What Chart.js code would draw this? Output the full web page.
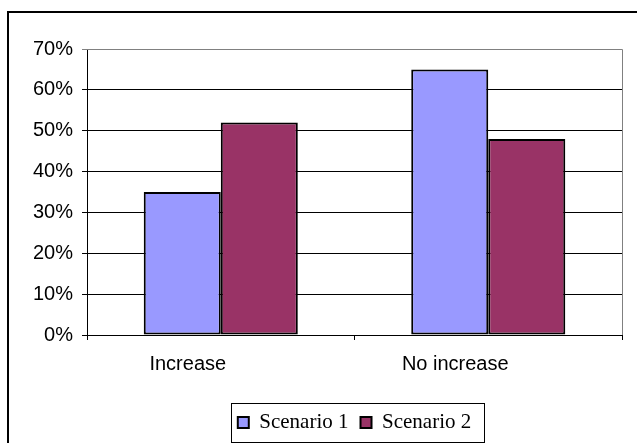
<!DOCTYPE html>
<html>
<head>
<meta charset="utf-8">
<script src="https://cdn.jsdelivr.net/npm/chart.js@4.4.0/dist/chart.umd.min.js"></script>
<style>
  html, body { margin: 0; padding: 0; background: #fff; }
  #wrap { width: 637px; height: 443px; position: relative; }
</style>
</head>
<body>
<div id="wrap"><canvas id="chart"></canvas></div>
<script>
// Chart data
const categories = ['Increase', 'No increase'];
const seriesNames = ['Scenario 1', 'Scenario 2'];
const scenario1 = [35, 65];
const scenario2 = [52, 48];
const yTicks = [0, 10, 20, 30, 40, 50, 60, 70];

// Outer frame + grey plot border + box around the legend
const framePlugin = {
    id: 'frame',
    beforeDatasetsDraw(chart) {
        const { ctx, chartArea } = chart;
        ctx.save();
        ctx.strokeStyle = '#808080';
        ctx.lineWidth = 1;
        ctx.beginPath();
        ctx.moveTo(chartArea.left, chartArea.top + 0.5);
        ctx.lineTo(chartArea.right + 0.5, chartArea.top + 0.5);
        ctx.lineTo(chartArea.right + 0.5, chartArea.bottom);
        ctx.stroke();
        ctx.restore();
    },
    afterDraw(chart) {
        const { ctx } = chart;
        ctx.save();
        ctx.fillStyle = '#000';
        ctx.fillRect(7, 11, chart.width, 2);   // top edge of frame
        ctx.fillRect(7, 11, 2, chart.height);  // left edge of frame

        const boxes = chart.legend.legendHitBoxes;
        if (boxes && boxes.length) {
            const first = boxes[0];
            const last = boxes[boxes.length - 1];
            const left = first.left - 7;
            const right = last.left + last.width + 13;
            const top = first.top - 9;
            const bottom = first.top + first.height + 9;
            ctx.strokeStyle = '#000';
            ctx.lineWidth = 1;
            ctx.strokeRect(Math.round(left) + 0.5, Math.round(top) + 0.5,
                           Math.round(right - left), Math.round(bottom - top));
        }
        ctx.restore();
    }
};

const ctx = document.getElementById('chart').getContext('2d');
new Chart(ctx, {
    type: 'bar',
    data: {
        labels: categories,
        datasets: [
            {
                label: seriesNames[0],
                data: scenario1,
                backgroundColor: '#9999FF',
                borderColor: '#000',
                borderWidth: 2,
                borderSkipped: false
            },
            {
                label: seriesNames[1],
                data: scenario2,
                backgroundColor: '#993366',
                borderColor: '#000',
                borderWidth: 2,
                borderSkipped: false
            }
        ]
    },
    options: {
        responsive: true,
        maintainAspectRatio: false,
        animation: false,
        layout: {
            padding: { left: 24, right: 15, top: 49, bottom: 0 }
        },
        datasets: {
            bar: {
                barPercentage: 1,
                categoryPercentage: 0.576
            }
        },
        scales: {
            x: {
                afterFit(scale) {
                    scale.height += 12;   // extra room between labels and legend
                },
                grid: {
                    drawOnChartArea: false,
                    drawTicks: true,
                    tickLength: 5,
                    color: '#000'
                },
                border: { color: '#000', width: 1 },
                ticks: {
                    color: '#000',
                    padding: 12,
                    labelOffset: -33,
                    font: { family: 'Liberation Sans, Arial, sans-serif', size: 20 }
                }
            },
            y: {
                min: 0,
                max: 70,
                afterBuildTicks(scale) {
                    scale.ticks = yTicks.map(v => ({ value: v }));
                },
                grid: {
                    tickLength: 5,
                    color: (c) => (c.tick && c.tick.value === 70 ? '#808080' : '#000')
                },
                border: { color: '#000', width: 1 },
                ticks: {
                    color: '#000',
                    padding: 9,
                    font: { family: 'Liberation Sans, Arial, sans-serif', size: 20 },
                    callback: (v) => v + '%'
                }
            }
        },
        plugins: {
            legend: {
                position: 'bottom',
                fullSize: false,
                labels: {
                    color: '#000',
                    boxWidth: 11,
                    boxHeight: 11,
                    padding: 12,
                    font: { family: 'Liberation Serif, Times New Roman, serif', size: 21 }
                }
            },
            tooltip: { enabled: false }
        }
    },
    plugins: [framePlugin]
});
</script>
</body>
</html>
